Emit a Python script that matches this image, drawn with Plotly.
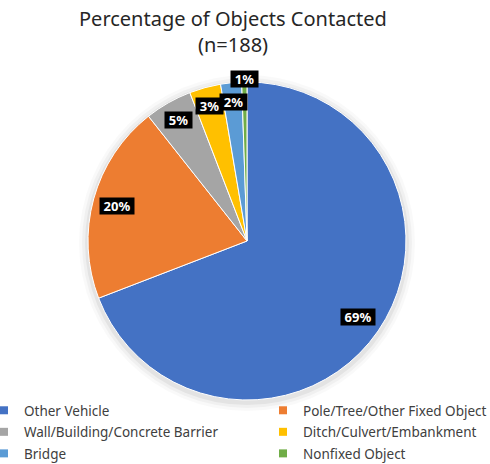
import math
import plotly.graph_objects as go

categories = ["Other Vehicle", "Pole/Tree/Other Fixed Object", "Wall/Building/Concrete Barrier",
              "Ditch/Culvert/Embankment", "Bridge", "Nonfixed Object"]
counts = [130, 38, 9, 6, 4, 1]
colors = ["#4472C4", "#ED7D31", "#A5A5A5", "#FFC000", "#5B9BD5", "#70AD47"]
title_lines = ["Percentage of Objects Contacted", "(n=188)"]

# layout tuning (pixels)
label_radius = [0.85, 0.845, 0.876, 0.882, 0.879, 1.02]
W, H = 490, 464
cx, cy, R = 247, 241, 159

fig = go.Figure()

# soft drop shadow behind the pie
for dr, alpha in [(9, 0.025), (6, 0.035), (3, 0.05)]:
    fig.add_shape(type="circle", xref="paper", yref="paper", layer="below",
                  x0=(cx - R - dr) / W, x1=(cx + R + dr) / W,
                  y0=1 - (cy + 2 + R + dr) / H, y1=1 - (cy + 2 - R - dr) / H,
                  fillcolor=f"rgba(0,0,0,{alpha})", line=dict(width=0))

fig.add_trace(go.Pie(
    labels=categories, values=counts, sort=False, direction="clockwise", rotation=0,
    marker=dict(colors=colors, line=dict(color="white", width=1)),
    textinfo="none", hoverinfo="label+percent", showlegend=False,
    domain=dict(x=[(cx - R) / W, (cx + R) / W], y=[1 - (cy + R) / H, 1 - (cy - R) / H]),
))

# legend entries (two columns, filled row by row)
for i, (name, col) in enumerate(zip(categories, colors)):
    fig.add_trace(go.Scatter(
        x=[None], y=[None], mode="markers", name=name,
        marker=dict(symbol="square", size=8, color=col),
        legend="legend" if i % 2 == 0 else "legend2",
        legendgroup=f"g{i}", showlegend=True, hoverinfo="skip",
    ))

total = sum(counts)
cum = 0
for v, rf in zip(counts, label_radius):
    mid = (cum + v / 2) / total * 2 * math.pi
    cum += v
    px = cx + rf * R * math.sin(mid)
    py = cy - rf * R * math.cos(mid)
    txt = f"{round(100 * v / total)}%"
    fig.add_annotation(
        x=px / W, y=1 - py / H, xref="paper", yref="paper",
        xanchor="center", yanchor="middle",
        text=f"<b>{txt}</b>", showarrow=False,
        font=dict(color="white", size=13, family="Noto Sans"),
        bgcolor="black", borderpad=0, width=7 * len(txt) + 13, height=16,
    )

for line, ypix in zip(title_lines, [18, 45]):
    fig.add_annotation(
        x=233 / W, y=1 - ypix / H, xref="paper", yref="paper", xanchor="center", yanchor="middle",
        text=line, showarrow=False,
        font=dict(size=20, color="#262626", family="Noto Sans"),
    )

legend_common = dict(orientation="v", yanchor="top", y=1 - 395 / H, xanchor="left",
                     tracegroupgap=1, bgcolor="rgba(0,0,0,0)",
                     font=dict(size=13.5, color="#404040", family="Noto Sans"))

fig.update_layout(
    width=W, height=H, margin=dict(l=0, r=0, t=0, b=0, autoexpand=False),
    paper_bgcolor="white", plot_bgcolor="white",
    xaxis=dict(visible=False), yaxis=dict(visible=False),
    legend=dict(x=-16 / W, **legend_common),
    legend2=dict(x=263 / W, **legend_common),
    showlegend=True,
)

fig.write_html("out.html", config={"displayModeBar": False},
               post_script="document.body.style.margin='0px';")
